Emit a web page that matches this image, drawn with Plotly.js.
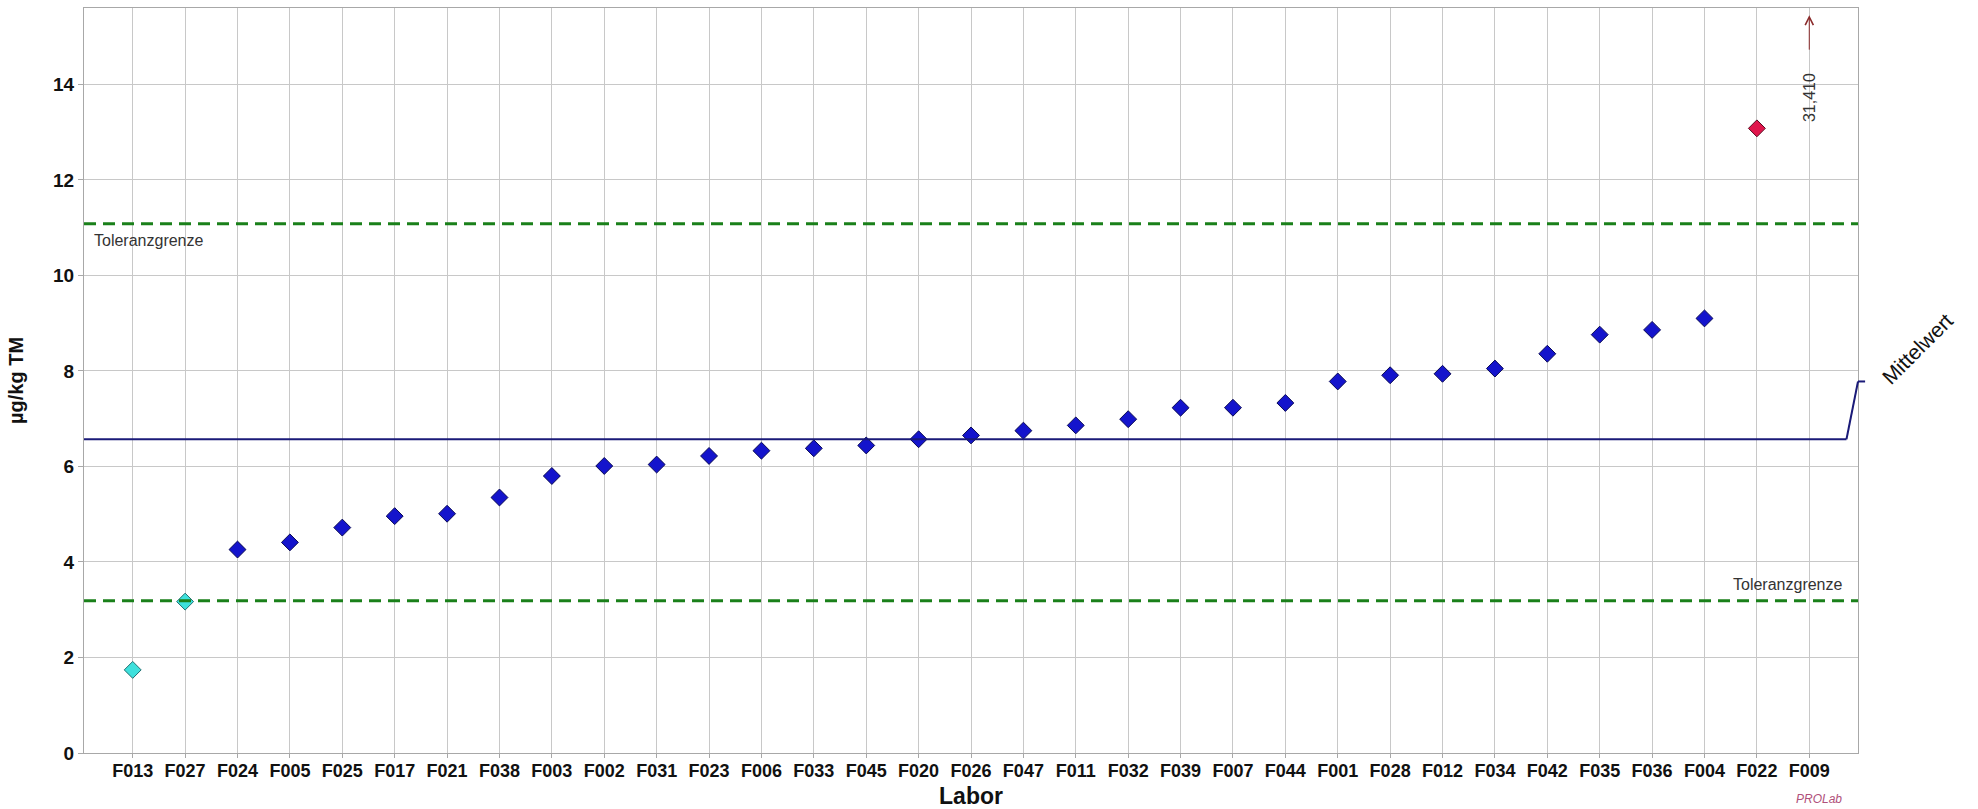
<!DOCTYPE html>
<html>
<head>
<meta charset="utf-8">
<script src="https://cdn.plot.ly/plotly-3.0.1.min.js"></script>
<style>
  html, body { margin: 0; padding: 0; background: #ffffff; }
  #chart { width: 1978px; height: 809px; }
</style>
</head>
<body>
<div id="chart"></div>
<script>
// ---- data ----
const labs = ["F013","F027","F024","F005","F025","F017","F021","F038","F003","F002","F031",
              "F023","F006","F033","F045","F020","F026","F047","F011","F032","F039","F007",
              "F044","F001","F028","F012","F034","F042","F035","F036","F004","F022","F009"];
const values = [1.74, 3.17, 4.26, 4.41, 4.72, 4.96, 5.01, 5.35, 5.80, 6.01, 6.04,
                6.22, 6.33, 6.38, 6.44, 6.57, 6.65, 6.75, 6.86, 6.99, 7.23, 7.23,
                7.33, 7.78, 7.91, 7.94, 8.05, 8.36, 8.76, 8.86, 9.10, 13.08, 31.41];
const meanValue = 6.57;
const tolUpper = 11.08;
const tolLower = 3.19;
const yMax = 15.6;
const yTicks = [0, 2, 4, 6, 8, 10, 12, 14];

// ---- styling ----
const FONT = 'Arial, "Liberation Sans", sans-serif';
const colBlue = '#1414cc', colBlueLine = '#0a0a55';
const colCyan = '#3ee0dc', colCyanLine = '#1f6f70';
const colRed = '#e0164c', colRedLine = '#5a0a20';

const fill = values.map(v => v < tolLower ? colCyan : (v > tolUpper ? colRed : colBlue));
const edge = values.map(v => v < tolLower ? colCyanLine : (v > tolUpper ? colRedLine : colBlueLine));

const trace = {
  type: 'scatter',
  mode: 'markers',
  x: labs,
  y: values,
  marker: { symbol: 'diamond', size: 13, color: fill, line: { color: edge, width: 1 } },
  hoverinfo: 'x+y',
  showlegend: false
};

const annotations = [];
// off-scale values: arrow + rotated value
labs.forEach((lab, i) => {
  if (values[i] > yMax) {
    annotations.push({
      x: lab, y: 15.45, xref: 'x', yref: 'y', text: '', showarrow: true,
      ax: 0, ay: 36, arrowhead: 5, arrowsize: 1.6, arrowwidth: 1, arrowcolor: '#8a2a2a'
    });
    annotations.push({
      x: lab, y: 13.72, xref: 'x', yref: 'y', showarrow: false, textangle: -90,
      xanchor: 'center', yanchor: 'middle',
      text: values[i].toFixed(3).replace('.', ','),
      font: { family: FONT, size: 16, color: '#333333' }
    });
  }
});
annotations.push(
  { xref: 'paper', x: 0.0045, xanchor: 'left', yref: 'y', y: tolUpper, yanchor: 'middle', yshift: -17,
    text: 'Toleranzgrenze', showarrow: false, font: { family: FONT, size: 16, color: '#333333' } },
  { xref: 'paper', x: 0.9927, xanchor: 'right', yref: 'y', y: tolLower, yanchor: 'middle', yshift: 16,
    text: 'Toleranzgrenze', showarrow: false, font: { family: FONT, size: 16, color: '#333333' } },
  { xref: 'paper', x: 1.0335, xanchor: 'center', yref: 'y', y: 8.48, yanchor: 'middle',
    text: 'Mittelwert', showarrow: false, textangle: -45,
    font: { family: FONT, size: 21, color: '#111111' } },
  { xref: 'paper', x: 0.978, xanchor: 'center', yref: 'paper', y: -0.062, yanchor: 'middle',
    text: '<i>PROLab</i>', showarrow: false,
    font: { family: FONT, size: 12, color: '#b0507a' } }
);

const shapes = [
  { type: 'line', xref: 'paper', x0: 0, x1: 1, yref: 'y', y0: tolUpper, y1: tolUpper,
    line: { color: '#1a801a', width: 3, dash: '12px,7px' } },
  { type: 'line', xref: 'paper', x0: 0, x1: 1, yref: 'y', y0: tolLower, y1: tolLower,
    line: { color: '#1a801a', width: 3, dash: '12px,7px' } },
  { type: 'line', xref: 'paper', x0: 0, x1: 0.9935, yref: 'y', y0: meanValue, y1: meanValue,
    line: { color: '#1a1a78', width: 2 } },
  { type: 'line', xref: 'paper', x0: 0.9935, x1: 1.0, yref: 'y', y0: meanValue, y1: 7.78,
    line: { color: '#1a1a78', width: 2 } },
  { type: 'line', xref: 'paper', x0: 1.0, x1: 1.004, yref: 'y', y0: 7.78, y1: 7.78,
    line: { color: '#1a1a78', width: 2 } }
];

const layout = {
  width: 1978, height: 809,
  margin: { l: 84, r: 120, t: 8, b: 56 },
  paper_bgcolor: '#ffffff', plot_bgcolor: '#ffffff',
  showlegend: false,
  xaxis: {
    type: 'category', range: [-0.93, 32.93],
    showgrid: true, gridcolor: '#c8c8c8', gridwidth: 1,
    showline: true, mirror: true, linecolor: '#a8a8a8', linewidth: 1,
    ticks: 'outside', ticklen: 4, tickcolor: '#a8a8a8', ticklabelstandoff: -3,
    tickfont: { family: FONT, size: 18, color: '#111111', weight: 'bold' },
    title: { text: '<b>Labor</b>', standoff: 8, font: { family: FONT, size: 23, color: '#111111' } },
    zeroline: false, fixedrange: true
  },
  yaxis: {
    range: [0, yMax], tickvals: yTicks,
    showgrid: true, gridcolor: '#c8c8c8', gridwidth: 1,
    showline: true, mirror: true, linecolor: '#a8a8a8', linewidth: 1,
    ticks: 'outside', ticklen: 5, tickcolor: '#a8a8a8',
    tickfont: { family: FONT, size: 19, color: '#111111', weight: 'bold' },
    title: { text: '<b>µg/kg TM</b>', standoff: 24, font: { family: FONT, size: 20, color: '#111111' } },
    zeroline: false, fixedrange: true
  },
  shapes: shapes,
  annotations: annotations
};

Plotly.newPlot('chart', [trace], layout, { displayModeBar: false, staticPlot: false });
</script>
</body>
</html>
